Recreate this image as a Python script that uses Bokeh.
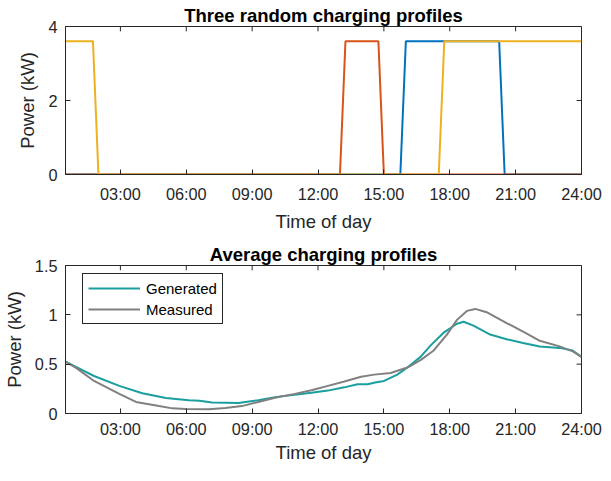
from bokeh.plotting import figure
from bokeh.layouts import column
from bokeh.models import (FixedTicker, Range1d, Legend, LegendItem, NumeralTickFormatter)
from bokeh.embed import file_html
from bokeh.resources import INLINE

# ---------------- data ----------------
x_start, x_end = 0.5, 24.0
hour_ticks = [3, 6, 9, 12, 15, 18, 21, 24]
hour_labels = ["03:00", "06:00", "09:00", "12:00", "15:00", "18:00", "21:00", "24:00"]

# three random charging profiles (hours, kW)
blue_t = [0.5, 15.75, 16.0, 20.25, 20.5, 24.0]
blue_p = [0, 0, 3.6, 3.6, 0, 0]
red_t = [0.5, 13.0, 13.25, 14.75, 15.0, 24.0]
red_p = [0, 0, 3.6, 3.6, 0, 0]
yel_t = [0.5, 1.75, 2.0, 17.5, 17.75, 24.0]
yel_p = [3.6, 3.6, 0, 0, 3.6, 3.6]

# average charging profiles (hours, kW)
gen_t = [0.5, 1.0, 1.8, 2.95, 4.0, 5.07, 6.12, 6.6, 7.18, 7.8, 8.38, 9.28, 10.04,
         10.94, 11.7, 12.45, 13.2, 13.8, 14.26, 14.6, 15.01, 15.61, 16.07, 16.67,
         17.12, 17.72, 18.33, 18.63, 19.08, 19.84, 20.59, 21.34, 22.1, 23.0, 23.6, 24.0]
gen_v = [0.525, 0.47, 0.38, 0.28, 0.205, 0.157, 0.134, 0.13, 0.112, 0.11, 0.107,
         0.134, 0.166, 0.189, 0.21, 0.232, 0.265, 0.297, 0.297, 0.315, 0.33, 0.394,
         0.466, 0.574, 0.688, 0.819, 0.91, 0.93, 0.89, 0.80, 0.753, 0.714, 0.68,
         0.665, 0.639, 0.574]
meas_t = [0.5, 1.0, 1.8, 2.95, 3.71, 4.76, 5.37, 5.97, 7.02, 7.78, 8.53, 9.28, 10.04,
          10.94, 11.7, 12.45, 13.2, 13.96, 14.56, 15.31, 16.07, 16.67, 17.27, 17.87,
          18.33, 18.78, 19.16, 19.68, 20.59, 21.49, 22.1, 23.0, 23.6, 24.0]
meas_v = [0.525, 0.46, 0.33, 0.199, 0.117, 0.075, 0.052, 0.046, 0.042, 0.055, 0.075,
          0.117, 0.16, 0.199, 0.235, 0.28, 0.325, 0.372, 0.394, 0.411, 0.466, 0.541,
          0.639, 0.80, 0.949, 1.04, 1.06, 1.027, 0.917, 0.812, 0.737, 0.68, 0.63, 0.574]

# ---------------- style ----------------
FONT = "Liberation Sans"
AX = "#262626"
TICK_FS = "16.3px"
LABEL_FS = "18.5px"
TITLE_FS = "18.5px"
FRAME_W = 521      # px (602 - 60 - 21)
TICK_LEN = 5       # px


def make_fig(height, btop, bbottom, ymax, yticks, title, s1, s2):
    frame_h = height - btop - bbottom
    p = figure(width=602, height=height, x_range=Range1d(x_start, x_end),
               y_range=Range1d(0, ymax), output_backend="svg", toolbar_location=None,
               min_border_left=60, min_border_right=21, min_border_top=btop,
               min_border_bottom=bbottom)
    p.xgrid.visible = False
    p.ygrid.visible = False
    p.outline_line_color = AX
    p.outline_line_width = 1
    p.outline_line_alpha = 1
    p.background_fill_color = "white"
    p.border_fill_color = "white"

    p.title.text = title
    p.title.align = "center"
    p.title.text_font = FONT
    p.title.text_font_size = TITLE_FS
    p.title.text_font_style = "bold"
    p.title.text_color = "black"
    p.title.standoff = 2

    xa = p.xaxis[0]
    xa.ticker = FixedTicker(ticks=hour_ticks)
    xa.major_label_overrides = dict(zip(hour_ticks, hour_labels))
    xa.axis_label = "Time of day"
    xa.axis_label_standoff = s2
    xa.major_label_standoff = s1

    ya = p.yaxis[0]
    ya.ticker = FixedTicker(ticks=yticks)
    ya.formatter = NumeralTickFormatter(format="0.[0]")
    ya.axis_label = "Power (kW)"
    ya.axis_label_standoff = 7
    ya.major_label_standoff = 8

    for a in (xa, ya):
        a.axis_line_color = AX
        a.major_tick_line_color = AX
        a.major_tick_in = TICK_LEN
        a.major_tick_out = 0
        a.minor_tick_in = 0
        a.minor_tick_out = 0
        a.major_label_text_font = FONT
        a.major_label_text_font_size = TICK_FS
        a.major_label_text_color = AX
        a.axis_label_text_font = FONT
        a.axis_label_text_font_size = LABEL_FS
        a.axis_label_text_font_style = "normal"
        a.axis_label_text_color = AX

    # box ticks along the top and right edges (MATLAB "box on" look)
    dy = ymax * TICK_LEN / frame_h
    dx = (x_end - x_start) * TICK_LEN / FRAME_W
    p.segment(x0=hour_ticks, y0=[ymax] * len(hour_ticks), x1=hour_ticks,
              y1=[ymax - dy] * len(hour_ticks), line_color=AX, line_width=1)
    p.segment(x0=[x_end] * len(yticks), y0=yticks, x1=[x_end - dx] * len(yticks),
              y1=yticks, line_color=AX, line_width=1)
    return p


p1 = make_fig(234, 26, 55, 4, [0, 2, 4], "Three random charging profiles", 10, 5)
p1.line(blue_t, blue_p, line_color="#0072BD", line_width=2)
p1.line(red_t, red_p, line_color="#D95319", line_width=2)
p1.line(yel_t, yel_p, line_color="#EDB120", line_width=2)

p2 = make_fig(231, 31, 46, 1.5, [0, 0.5, 1, 1.5], "Average charging profiles", 6, 1)
r_gen = p2.line(gen_t, gen_v, line_color="#1A9E9E", line_width=2)
r_meas = p2.line(meas_t, meas_v, line_color="#808080", line_width=2)

legend = Legend(items=[LegendItem(label="Generated", renderers=[r_gen]),
                       LegendItem(label="Measured", renderers=[r_meas])],
                location=(17, 89), orientation="vertical")
legend.label_text_font = FONT
legend.label_text_font_size = "15px"
legend.label_text_color = "black"
legend.border_line_color = AX
legend.border_line_width = 1
legend.border_line_alpha = 1
legend.background_fill_color = "white"
legend.background_fill_alpha = 1
legend.padding = 5
legend.margin = 0
legend.spacing = 3
legend.glyph_width = 52
legend.glyph_height = 18
legend.label_height = 18
legend.label_standoff = 6
p2.add_layout(legend)

layout = column(p1, p2, spacing=0)
open("out.html", "w").write(file_html(layout, INLINE))
